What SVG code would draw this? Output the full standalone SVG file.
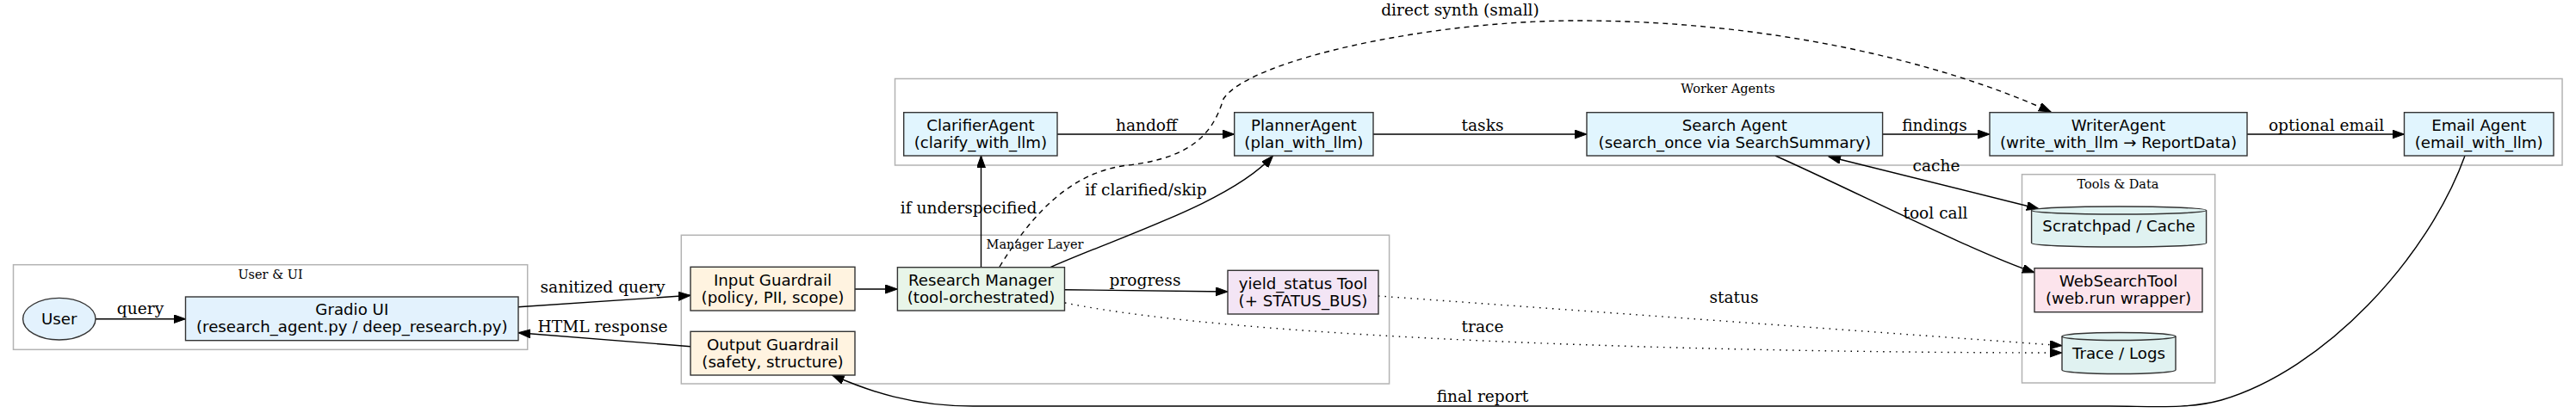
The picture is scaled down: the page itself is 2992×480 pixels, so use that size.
<svg xmlns="http://www.w3.org/2000/svg" width="2992" height="480" viewBox="0 0 2992 480">
<defs>
<marker id="ah" markerUnits="userSpaceOnUse" markerWidth="16" markerHeight="12" refX="14" refY="5" orient="auto-start-reverse" viewBox="0 0 16 12">
<path d="M0,0 L14,5 L0,10 z" fill="#000" stroke="#000" stroke-width="1"/>
</marker>
<style>
.cl{fill:#fff;stroke:#b3b3b3;stroke-width:1.5}
.clt{font-family:"DejaVu Serif",serif;font-size:14.5px;text-anchor:middle;fill:#000}
.n{stroke:#333;stroke-width:1.4}
.nt{font-family:"DejaVu Sans",sans-serif;font-size:18.2px;text-anchor:middle;fill:#000}
.el{font-family:"DejaVu Serif",serif;font-size:18.6px;text-anchor:middle;fill:#000}
.e{fill:none;stroke:#000;stroke-width:1.4;marker-end:url(#ah)}
.dash{stroke-dasharray:6,5}
.dot{stroke-dasharray:1.5,6}
.blue{fill:#e3f2fd}.wk{fill:#e1f5fe}.org{fill:#fff3e0}.grn{fill:#e8f5e9}.pur{fill:#f3e5f5}.tea{fill:#e0f2f1}.pnk{fill:#fce4ec}
</style>
</defs>
<rect width="2992" height="480" fill="#fff"/>

<g id="clusters">
<rect class="cl" x="15.5" y="307.7" width="597.2" height="98.6"/>
<text class="clt" x="314" y="324">User &amp; UI</text>
<rect class="cl" x="791.3" y="273.3" width="822.3" height="172.7"/>
<text class="clt" x="1202" y="289">Manager Layer</text>
<rect class="cl" x="1039.5" y="91.5" width="1936.5" height="100.5"/>
<text class="clt" x="2007" y="108">Worker Agents</text>
<rect class="cl" x="2348.5" y="202.7" width="224.2" height="242.3"/>
<text class="clt" x="2460" y="219">Tools &amp; Data</text>
</g>

<g id="connectors">
<path class="e" d="M111,370.7 L215.5,370.7"/>
<text class="el" x="163" y="365">query</text>
<path class="e" d="M602,356.7 L802,343.3"/>
<text class="el" x="700" y="340">sanitized query</text>
<path class="e" d="M802,402.7 L602,386.7"/>
<text class="el" x="700" y="386">HTML response</text>
<path class="e" d="M993,336 L1042.4,336"/>
<path class="e" d="M1236.5,336.7 L1426,339"/>
<text class="el" x="1330" y="332">progress</text>
<path class="e" d="M1139.5,310.7 L1139.5,181"/>
<text class="el" x="1125" y="248">if underspecified</text>
<path class="e" d="M1220,310.7 C1300,275 1430,235 1478.5,181"/>
<text class="el" x="1331" y="227">if clarified/skip</text>
<path class="e dash" d="M1161,310 C1195,255 1240,200 1310,192 C1390,183 1410,150 1421,115 C1450,70 1660,24 1832,24 C2050,24 2250,70 2382,130"/>
<text class="el" x="1696" y="18">direct synth (small)</text>
<path class="e" d="M1228,156 L1433.7,156"/>
<text class="el" x="1331.6" y="152">handoff</text>
<path class="e" d="M1595,156 L1843,156"/>
<text class="el" x="1722" y="152">tasks</text>
<path class="e" d="M2186.6,156 L2311,156"/>
<text class="el" x="2247" y="152">findings</text>
<path class="e" d="M2610,156 L2792.5,156"/>
<text class="el" x="2702" y="152">optional email</text>
<path class="e" style="marker-start:url(#ah)" d="M2124,182 L2368,242.7"/>
<text class="el" x="2249" y="199">cache</text>
<path class="e" d="M2062,181 C2150,220 2290,292 2363,316.7"/>
<text class="el" x="2248" y="254">tool call</text>
<path class="e dot" d="M1601,344 L2395,401.7"/>
<text class="el" x="2014" y="352">status</text>
<path class="e dot" d="M1237,352 C1450,395 2000,410 2395,410"/>
<text class="el" x="1722" y="386">trace</text>
<path class="e" d="M2863,181 C2820,300 2700,430 2580,465 C2540,476 2500,472 2450,472 L1130,472 C1060,472 1010,455 966.7,436"/>
<text class="el" x="1722" y="467">final report</text>
</g>

<g id="user">
<ellipse class="n blue" cx="68.8" cy="370.7" rx="42.2" ry="24.3"/>
<text class="nt" x="68.8" y="377">User</text>
</g>
<g id="gradio">
<rect class="n blue" x="215.5" y="345" width="386.5" height="50.7"/>
<text class="nt" x="408.8" y="366">Gradio UI</text>
<text class="nt" x="408.8" y="386">(research_agent.py / deep_research.py)</text>
</g>
<g id="input_guardrail">
<rect class="n org" x="802" y="310.3" width="191" height="50.7"/>
<text class="nt" x="897.5" y="331.5">Input Guardrail</text>
<text class="nt" x="897.5" y="351.5">(policy, PII, scope)</text>
</g>
<g id="output_guardrail">
<rect class="n org" x="802" y="385.3" width="191" height="50.7"/>
<text class="nt" x="897.5" y="406.5">Output Guardrail</text>
<text class="nt" x="897.5" y="426.5">(safety, structure)</text>
</g>
<g id="research_manager">
<rect class="n grn" x="1042.4" y="310.7" width="194.1" height="50.3"/>
<text class="nt" x="1139.5" y="331.5">Research Manager</text>
<text class="nt" x="1139.5" y="351.5">(tool-orchestrated)</text>
</g>
<g id="yield_status">
<rect class="n pur" x="1426" y="314.3" width="175" height="50.7"/>
<text class="nt" x="1513.5" y="335.5">yield_status Tool</text>
<text class="nt" x="1513.5" y="355.5">(+ STATUS_BUS)</text>
</g>
<g id="clarifier">
<rect class="n wk" x="1049.7" y="130.7" width="178.3" height="50.3"/>
<text class="nt" x="1138.9" y="151.5">ClarifierAgent</text>
<text class="nt" x="1138.9" y="171.5">(clarify_with_llm)</text>
</g>
<g id="planner">
<rect class="n wk" x="1433.7" y="130.7" width="161.3" height="50.3"/>
<text class="nt" x="1514.4" y="151.5">PlannerAgent</text>
<text class="nt" x="1514.4" y="171.5">(plan_with_llm)</text>
</g>
<g id="search">
<rect class="n wk" x="1843" y="130.7" width="343.6" height="50.3"/>
<text class="nt" x="2014.8" y="151.5">Search Agent</text>
<text class="nt" x="2014.8" y="171.5">(search_once via SearchSummary)</text>
</g>
<g id="writer">
<rect class="n wk" x="2311" y="130.7" width="299" height="50.3"/>
<text class="nt" x="2460.5" y="151.5">WriterAgent</text>
<text class="nt" x="2460.5" y="171.5">(write_with_llm → ReportData)</text>
</g>
<g id="email">
<rect class="n wk" x="2792.5" y="130.7" width="173.5" height="50.3"/>
<text class="nt" x="2879.2" y="151.5">Email Agent</text>
<text class="nt" x="2879.2" y="171.5">(email_with_llm)</text>
</g>
<g id="scratchpad">
<path class="n tea" d="M2359.6,244.5 A101.5,4.5 0 0 1 2562.6,244.5 V282.5 A101.5,4.5 0 0 1 2359.6,282.5 Z"/>
<path class="n" fill="none" d="M2359.6,244.5 A101.5,4.5 0 0 0 2562.6,244.5"/>
<text class="nt" x="2461" y="269">Scratchpad / Cache</text>
</g>
<g id="websearch">
<rect class="n pnk" x="2363" y="311.7" width="195" height="51"/>
<text class="nt" x="2460.5" y="332.5">WebSearchTool</text>
<text class="nt" x="2460.5" y="352.5">(web.run wrapper)</text>
</g>
<g id="trace_logs">
<path class="n tea" d="M2395,391 A66,4.5 0 0 1 2527,391 V430 A66,4.5 0 0 1 2395,430 Z"/>
<path class="n" fill="none" d="M2395,391 A66,4.5 0 0 0 2527,391"/>
<text class="nt" x="2461" y="416.5">Trace / Logs</text>
</g>
</svg>
